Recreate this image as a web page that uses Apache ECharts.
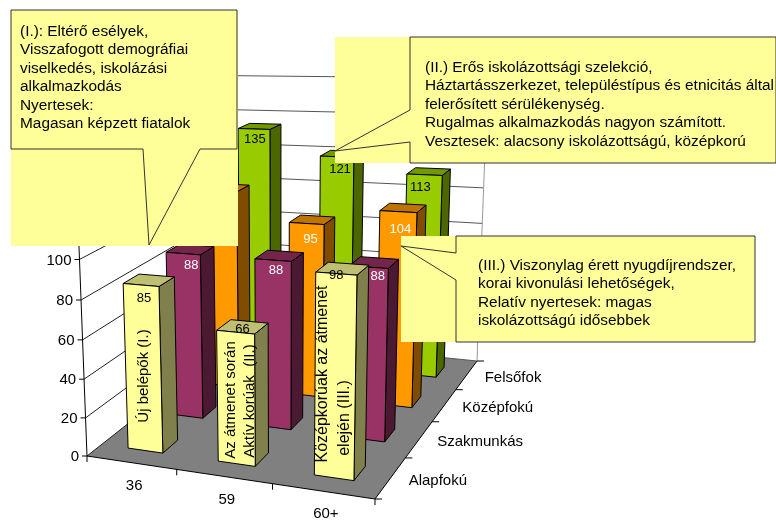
<!DOCTYPE html>
<html>
<head>
<meta charset="utf-8">
<style>
    html, body { margin: 0; padding: 0; background: #fff; }
    #chart { width: 776px; height: 521px; }
</style>
<script src="https://cdn.jsdelivr.net/npm/echarts@6/dist/echarts.min.js"></script>
</head>
<body>
<div id="chart"></div>
<script>
// categories and values
const cohorts = ['36', '59', '60+'];
const levels = ['Alapfokú', 'Szakmunkás', 'Középfokú', 'Felsőfok'];
const yTicks = [0, 20, 40, 60, 80, 100, 120, 140, 160];
const alapfoku = [85, 66, 98];
const szakmunkas = [88, 88, 88];
const kozepfoku = [110, 95, 104];
const felsofok = [135, 121, 113];
const levelValues = [alapfoku, szakmunkas, kozepfoku, felsofok];

// callout and bar texts
const noteI = '(I.): Eltérő esélyek,\nVisszafogott demográfiai\nviselkedés, iskolázási\nalkalmazkodás\nNyertesek:\nMagasan képzett fiatalok';
const noteII = '(II.) Erős iskolázottsági szelekció,\nHáztartásszerkezet, településtípus és etnicitás által\nfelerősített sérülékenység.\nRugalmas alkalmazkodás nagyon számított.\nVesztesek: alacsony iskolázottságú, középkorú';
const noteIII = '(III.) Viszonylag érett nyugdíjrendszer,\nkorai kivonulási lehetőségek,\nRelatív nyertesek: magas\niskolázottságú idősebbek';

const FONT = '"Liberation Sans", Arial, sans-serif';

// faces: front, top, side
const levelColors = [
    ['#FFFF99', '#BFBF73', '#80804D'],
    ['#993366', '#732649', '#4C1933'],
    ['#FF9900', '#BF7300', '#804D00'],
    ['#99CC00', '#739900', '#4C6600']
];
const labelColors = ['#000', '#fff', '#fff', '#000'];

// view of the box: u along cohorts, v into the depth, h up the value axis
const O = [87, 456], A = [252.38, -4.39], B = [209.44, -36.25], C = [-16.8, -330];
const G = -0.09498, H = 0.24556, W = -0.06;
function project(u, v, h) {
    const d = 1 + G * u + H * v + W * h;
    return [
        (O[0] + A[0] * u + B[0] * v + C[0] * h) / d,
        (O[1] + A[1] * u + B[1] * v + C[1] * h) / d
    ];
}

const BAR_W = 0.393; // of the cohort band
const BAR_D = 0.355; // of the level band

function line(p1, p2, color) {
    return {
        type: 'line',
        shape: { x1: p1[0], y1: p1[1], x2: p2[0], y2: p2[1] },
        style: { stroke: color, lineWidth: 1 }
    };
}
function face(points, fill) {
    return {
        type: 'polygon',
        shape: { points: points },
        style: { fill: fill, stroke: '#000', lineWidth: 1 }
    };
}
function label(text, x, y, size, color, align) {
    return {
        type: 'text',
        x: x,
        y: y,
        style: {
            text: text,
            font: size + 'px ' + FONT,
            fill: color,
            align: align || 'center',
            verticalAlign: 'middle'
        }
    };
}

function renderFrame(params, api) {
    const g = params.coordSys;
    const toH = (val) => (g.y + g.height - api.coord([0, val])[1]) / g.height;
    const toU = (i) => (api.coord([i, 0])[0] - g.x) / g.width;
    const children = [];

    children.push({
        type: 'polygon',
        shape: { points: [project(0, 0, 0), project(1, 0, 0), project(1, 1, 0), project(0, 1, 0)] },
        style: { fill: '#808080' }
    });

    yTicks.forEach((t) => {
        const h = toH(t);
        const front = project(0, 0, h);
        children.push(line(front, project(0, 1, h), '#222'));
        children.push(line(project(0, 1, h), project(1, 1, h), '#555'));
        children.push(line([front[0] - 5, front[1]], front, '#000'));
        children.push(label(String(t), front[0] - 8, front[1] + 1, 15, '#000', 'right'));
    });

    children.push(line(project(1, 1, 0), project(1, 1, 1), '#999'));
    children.push(line(project(0, 0, 0), project(0, 0, 1), '#000'));
    children.push(line(project(0, 0, 0), project(1, 0, 0), '#000'));
    children.push(line(project(1, 0, 0), project(1, 1, 0), '#000'));

    cohorts.forEach((c, i) => {
        const edge = project((i + 1) / cohorts.length, 0, 0);
        children.push(line(edge, [edge[0], edge[1] + 6], '#000'));
        const p = project(toU(i), 0, 0);
        children.push(label(c, p[0] + 3, p[1] + 23, 15, '#000'));
    });
    const first = project(0, 0, 0);
    children.push(line(first, [first[0], first[1] + 6], '#000'));

    levels.forEach((l, j) => {
        const p = project(1, (j + 0.5) / levels.length, 0);
        children.push(label(l, p[0] + 18, p[1] + 3, 15, '#000', 'left'));
    });
    for (let j = 0; j <= levels.length; j++) {
        const p = project(1, j / levels.length, 0);
        children.push(line(p, [p[0] + 7, p[1]], '#000'));
    }
    return { type: 'group', children: children };
}

// number position against the middle of the bar's front top edge, by level then cohort
const labelNudge = [
    [[3, 13], [7, -3], [0, 2]],
    [[8, 12], [3, 10], [9, 9]],
    [[1, 10], [4, 16], [2, 18]],
    [[1, 10], [3, 13], [-4, 13]]
];

function renderBar(params, api) {
    const g = params.coordSys;
    const i = api.value(0), val = api.value(1), j = api.value(2);
    const base = api.coord([i, 0]), top = api.coord([i, val]);
    const band = api.size([1, 0])[0];
    const u0 = (base[0] - band * BAR_W / 2 - g.x) / g.width;
    const u1 = (base[0] + band * BAR_W / 2 - g.x) / g.width;
    const v0 = (j + 0.5 - BAR_D / 2) / levels.length;
    const v1 = (j + 0.5 + BAR_D / 2) / levels.length;
    const h = (base[1] - top[1]) / g.height;
    const col = levelColors[j];
    const topMid = project((u0 + u1) / 2, v0, h);
    const nudge = labelNudge[j][i];
    return {
        type: 'group',
        children: [
            face([project(u1, v0, 0), project(u1, v1, 0), project(u1, v1, h), project(u1, v0, h)], col[2]),
            face([project(u0, v0, h), project(u1, v0, h), project(u1, v1, h), project(u0, v1, h)], col[1]),
            face([project(u0, v0, 0), project(u1, v0, 0), project(u1, v0, h), project(u0, v0, h)], col[0]),
            label(String(val), topMid[0] + nudge[0], topMid[1] + nudge[1], 13, labelColors[j])
        ]
    };
}

function callout(fillBox, rect, pointer, text, textX, textY) {
    // yellow fill over the whole bounding box, outline only round the speech shape
    return [
        {
            type: 'rect', z: 50,
            shape: fillBox,
            style: { fill: '#FFFF99' }
        },
        {
            type: 'polyline', z: 51,
            shape: { points: rect.concat(pointer) },
            style: { fill: 'none', stroke: '#333', lineWidth: 1 }
        },
        {
            type: 'text', z: 52,
            x: textX, y: textY,
            style: { text: text, font: '15.4px ' + FONT, fill: '#000', lineHeight: 18.5, verticalAlign: 'top' }
        }
    ];
}
function barText(text, x, y, size) {
    return {
        type: 'text', z: 52,
        x: x, y: y,
        rotation: Math.PI / 2,
        style: { text: text, font: size + 'px ' + FONT, fill: '#000', align: 'center', verticalAlign: 'middle' }
    };
}

const chart = echarts.init(document.getElementById('chart'));

const barSeries = levels.map((name, j) => ({
    name: name,
    type: 'custom',
    renderItem: renderBar,
    encode: { x: 0, y: 1 },
    data: levelValues[j].map((v, i) => [i, v, j])
})).reverse(); // far row first

chart.setOption({
    animation: false,
    backgroundColor: '#fff',
    grid: { left: 0, right: 0, top: 0, bottom: 0 },
    xAxis: { type: 'category', data: cohorts, show: false },
    yAxis: { type: 'value', min: 0, max: 160, interval: 20, show: false },
    series: [
        { type: 'custom', renderItem: renderFrame, encode: { x: 0, y: 1 }, data: [[0, 0]] }
    ].concat(barSeries),
    graphic: {
        elements: [
            barText('Új belépők (I.)', 144, 376, 15),
            barText('Az átmenet során', 231, 400, 15),
            barText('Aktív korúak  (II.)', 250, 401, 15),
            barText('Középkorúak az átmenet', 323, 374, 16),
            barText('elején (III.)', 345, 418, 16)
        ].concat(
            callout({ x: 11, y: 10, width: 227, height: 236 },
                [[143, 149], [11, 149], [11, 10], [237, 10], [237, 149], [200, 149]],
                [[149, 245], [143, 149]],
                noteI, 20, 22),
            callout({ x: 335, y: 37, width: 441, height: 126 },
                [[410, 142], [410, 163], [776, 163], [776, 37], [410, 37], [410, 110]],
                [[335, 151], [410, 142]],
                noteII, 425, 58),
            callout({ x: 401, y: 236, width: 354, height: 106 },
                [[456, 253], [456, 236], [755, 236], [755, 342], [456, 342], [456, 280]],
                [[401, 246], [456, 253]],
                noteIII, 478, 256)
        )
    }
});
</script>
</body>
</html>
